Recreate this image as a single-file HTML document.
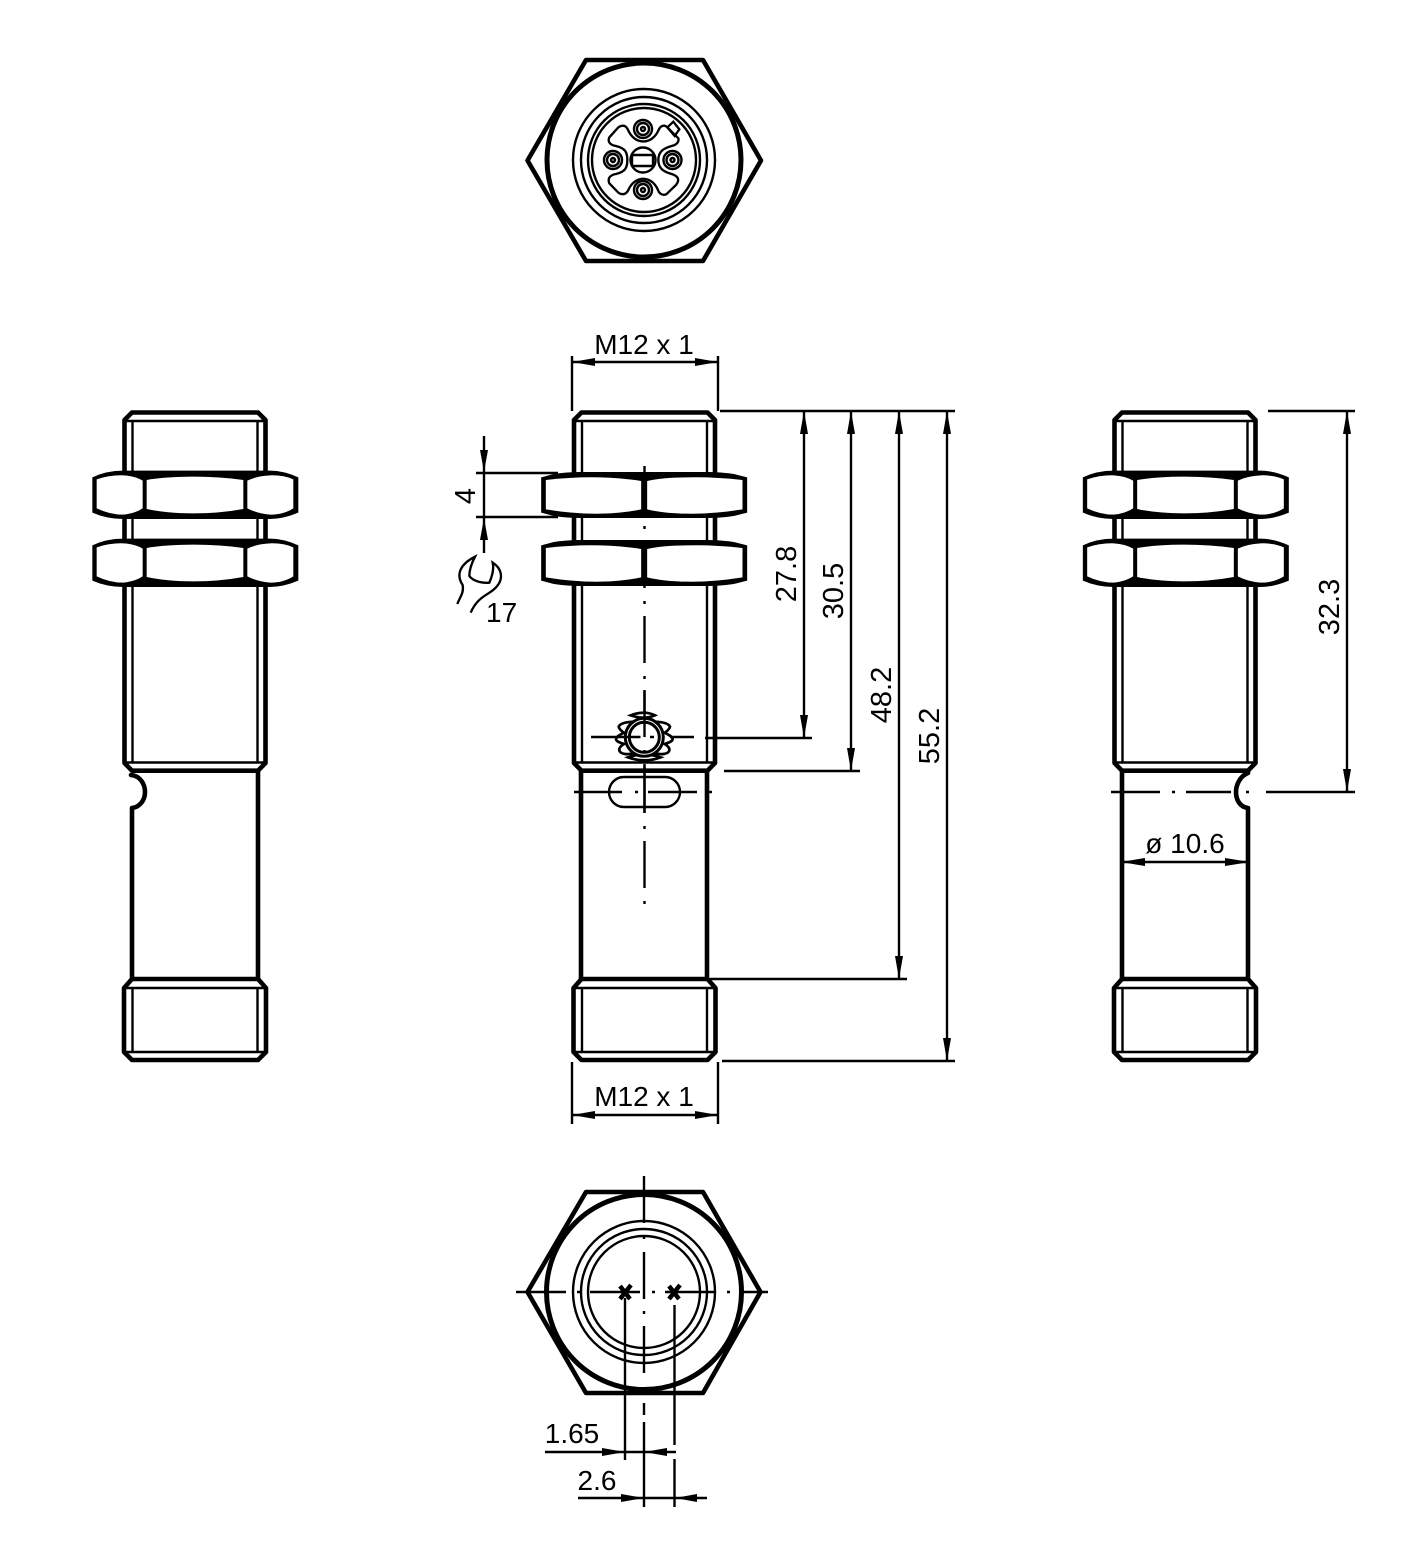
<!DOCTYPE html>
<html><head><meta charset="utf-8"><style>
html,body{margin:0;padding:0;background:#fff}
svg{display:block}
text{font-family:"Liberation Sans",sans-serif;font-size:28px;fill:#000}
.v{font-size:29px;text-anchor:middle}
.m{text-anchor:middle}
.t{fill:none;stroke:#000;stroke-width:2.4}
.k{fill:none;stroke:#000;stroke-width:4.6;stroke-linejoin:round;stroke-linecap:round}
.h{fill:#000}
</style></head><body>
<svg xmlns="http://www.w3.org/2000/svg" width="1417" height="1559" viewBox="0 0 1417 1559">
<rect width="1417" height="1559" fill="#fff"/>
<defs>
<g id="upper">
<path class="k" d="M-70.5,763V420L-63,412.5H63L70.5,420V763L63,770.7H-63Z"/>
<path class="t" d="M-70,421H70M-62.5,421V763M62.5,421V763M-70,762.5H70"/>
</g>
<g id="lower">
<path class="k" d="M-63,979H63L71,988V1052L63,1060H-63L-71,1052V988Z"/>
<path class="t" d="M-71,988H71M-71,1052H71M-62.5,988V1052M62.5,988V1052"/>
</g>
<g id="nutS" transform="scale(.33333)">
<path class="h" d="M37,232Q80,212 130,212H570Q610,212 655,232V338Q610,357 570,357H130Q80,357 37,338Z"/>
<path fill="#fff" d="M50,238Q90,225 130,226Q165,228 188,242V325Q165,340 130,344Q90,344 50,325Z"/>
<path fill="#fff" d="M200,240Q260,230 340,230Q420,230 490,240V327Q420,340 340,340Q260,340 200,327Z"/>
<path fill="#fff" d="M502,242Q530,228 570,226Q610,225 640,238V325Q610,344 570,344Q530,340 502,325Z"/>
</g>
<g id="nutM" transform="scale(.33333)">
<path class="h" d="M302,232L340,222Q380,216 420,216H800Q840,216 880,222L920,232V338L880,348Q840,354 800,354H420Q380,354 340,348L302,338Z"/>
<path fill="#fff" d="M316,240Q400,230 480,232Q550,234 602,243V328Q550,340 480,341Q400,342 316,328Z"/>
<path fill="#fff" d="M620,243Q670,232 740,232Q820,230 906,240V328Q820,342 740,341Q670,340 620,328Z"/>
</g>
</defs>

<!-- top view -->
<path class="k" d="M586,60H703L761,160.5L703,261H586L527.5,160.5Z"/>
<circle cx="644" cy="160" r="97" fill="none" stroke="#000" stroke-width="5"/>
<g fill="none" stroke="#000" stroke-width="2.4"><circle cx="644" cy="160" r="71"/><circle cx="644" cy="160" r="63"/><circle cx="644" cy="160" r="56"/><circle cx="644" cy="160" r="52"/>
<circle cx="643" cy="160" r="12.5"/><rect x="632" y="155" width="21" height="11" rx="1"/>
<circle cx="643" cy="129" r="9"/><circle cx="643" cy="129" r="6"/><circle cx="643" cy="129" r="2"/>
<circle cx="613" cy="160" r="9"/><circle cx="613" cy="160" r="6"/><circle cx="613" cy="160" r="2"/>
<circle cx="672.5" cy="160" r="9"/><circle cx="672.5" cy="160" r="6"/><circle cx="672.5" cy="160" r="2"/>
<circle cx="643" cy="190" r="9"/><circle cx="643" cy="190" r="6"/><circle cx="643" cy="190" r="2"/>
<g transform="translate(510,40) scale(.33333)" stroke-width="7"><path d="M355,272C375,315 425,315 445,272C450,258 462,252 472,262L505,295C508,305 500,315 485,318C460,325 445,335 445,360C445,385 460,395 485,402C505,408 510,420 498,435L470,462C460,468 448,462 444,450C425,405 375,405 355,450C348,465 335,465 325,458L298,430C292,415 300,405 318,402C345,395 352,385 352,360C352,335 345,325 318,318C300,315 292,305 298,292L325,262C340,252 350,258 355,272Z"/><path d="M472,262L490,245L508,268L494,288Z"/></g></g>

<!-- left view -->
<use href="#upper" x="195"/>
<path class="k" d="M258,771V979M132,979V808C140,807 145,800 145,792C145,785 141,776 131,775"/>
<use href="#lower" x="195"/>
<use href="#nutS" x="80" y="400"/>
<use href="#nutS" x="80" y="468"/>

<!-- main view -->
<use href="#upper" x="644.5"/>
<path class="k" d="M581,771V979M707,771V979"/>
<use href="#lower" x="644.5"/>
<use href="#nutM" x="440.5" y="400"/>
<use href="#nutM" x="440.5" y="468"/>
<path d="M644.5,466V904" fill="none" stroke="#000" stroke-width="2.4" stroke-dasharray="47 13 3 12"/>
<rect x="609" y="777" width="71" height="30" rx="15" fill="none" stroke="#000" stroke-width="2.4"/>
<path d="M574,792H622M635,792H638M648,792H697M708,792H712" fill="none" stroke="#000" stroke-width="2.4"/>
<path d="M644.5,764V813" class="t"/>
<g transform="translate(600,700) scale(.33333)" fill="#fff" stroke="#000" stroke-width="8">
<path d="M92,46Q133,30 165,46Q133,60 92,46ZM84,172Q133,190 182,172Q133,155 84,172Z"/>
<path fill="none" d="M100,65C80,66 60,70 56,80C58,90 66,94 72,98C60,104 48,110 48,118C50,126 62,128 72,132C62,138 56,144 58,152C64,164 84,164 100,160"/>
<path fill="none" d="M166,65C186,66 206,70 210,80C208,90 200,94 194,98C206,104 218,110 218,118C216,126 204,128 194,132C204,138 210,144 208,152C202,164 182,164 166,160"/>
</g>
<circle cx="644.3" cy="737.3" r="19" fill="#fff" stroke="#000" stroke-width="3"/>
<circle cx="644.3" cy="737.3" r="15" fill="#fff" stroke="#000" stroke-width="3"/>
<path d="M591,737H640.5M650,737H654M670,737H694M644.5,690V737M644.5,750V753" fill="none" stroke="#000" stroke-width="2.4"/>

<!-- right view -->
<use href="#upper" x="1185"/>
<path class="k" d="M1122,771V979M1248,771V773C1240,776 1236,785 1236,792C1236,800 1240,807 1248,808V979"/>
<use href="#lower" x="1185"/>
<use href="#nutS" x="1070.5" y="400"/>
<use href="#nutS" x="1070.5" y="468"/>
<path d="M1111,792H1160M1172,792H1175M1186,792H1231M1246,792H1249M1266,792H1355" fill="none" stroke="#000" stroke-width="2.4"/>

<!-- bottom view -->
<path class="k" d="M586,1192H703L760.5,1292L703,1393H586L527.5,1292Z"/>
<circle cx="644" cy="1292" r="97.5" fill="none" stroke="#000" stroke-width="5"/>
<g fill="none" stroke="#000" stroke-width="2.4"><circle cx="644" cy="1292" r="71"/><circle cx="644" cy="1292" r="63"/><circle cx="644" cy="1292" r="56"/>
<path d="M516,1292H566M577,1292H580M590,1292H640M652,1292H655M665,1292H715M727,1292H730M740,1292H768"/>
<path d="M644,1176V1223M644,1236V1239M644,1252V1299M644,1311V1314M644,1326V1373M644,1403V1415M644,1422V1507"/>
<path d="M625,1298V1460M674.5,1305V1445M674.5,1459V1507"/>
<path d="M545,1452H676M578,1498H707"/></g>
<path d="M620,1299L631,1285M620,1286L630,1299M669,1299L680,1285M669,1286L679,1299" fill="none" stroke="#000" stroke-width="4.5"/>
<polygon class="h" points="625,1452 602,1448 602,1456"/><polygon class="h" points="644,1452 667,1448 667,1456"/>
<polygon class="h" points="644,1498 621,1494 621,1502"/><polygon class="h" points="675,1498 697,1494 697,1502"/>
<text x="572" y="1443" class="m">1.65</text>
<text x="597" y="1490" class="m">2.6</text>

<!-- dimensions -->
<g class="t">
<path d="M572,356V411M718,356V411M572,362H718"/>
<path d="M572,1062V1124M718,1062V1124M572,1115H718"/>
<path d="M720,411H955M705,738H812M724,771H860M710,979H907M722,1061H955"/>
<path d="M804,411V738M851,411V771M899,411V979M947,411V1061"/>
<path d="M1268,411H1355M1347,411V792"/>
<path d="M1121,862H1250"/>
<path d="M484,436V553M476,473H558M476,517H558"/>
</g>
<polygon class="h" points="572,362 595,358 595,366"/><polygon class="h" points="718,362 695,358 695,366"/>
<polygon class="h" points="572,1115 595,1111 595,1119"/><polygon class="h" points="718,1115 695,1111 695,1119"/>
<polygon class="h" points="804,411 800,434 808,434"/><polygon class="h" points="851,411 847,434 855,434"/>
<polygon class="h" points="899,411 895,434 903,434"/><polygon class="h" points="947,411 943,434 951,434"/>
<polygon class="h" points="804,738 800,715 808,715"/><polygon class="h" points="851,771 847,748 855,748"/>
<polygon class="h" points="899,979 895,956 903,956"/><polygon class="h" points="947,1061 943,1038 951,1038"/>
<polygon class="h" points="1347,411 1343,434 1351,434"/><polygon class="h" points="1347,792 1343,769 1351,769"/>
<polygon class="h" points="1121,862 1145,858 1145,866"/><polygon class="h" points="1250,862 1225,858 1225,866"/>
<polygon class="h" points="484,472 480,450 488,450"/><polygon class="h" points="484,518 480,540 488,540"/>

<text x="644" y="354" class="m">M12 x 1</text>
<text x="644" y="1106" class="m">M12 x 1</text>
<text x="1185" y="853" class="m">ø 10.6</text>
<text class="v" transform="translate(796,574) rotate(-90)">27.8</text>
<text class="v" transform="translate(843,591) rotate(-90)">30.5</text>
<text class="v" transform="translate(891,695) rotate(-90)">48.2</text>
<text class="v" transform="translate(939,736) rotate(-90)">55.2</text>
<text class="v" transform="translate(1339,607) rotate(-90)">32.3</text>
<text class="v" transform="translate(475,496) rotate(-90)">4</text>
<text x="486" y="622">17</text>
<path transform="translate(440,540) scale(.33333)" fill="none" stroke="#000" stroke-width="7" d="M52,192C60,170 72,160 68,135C45,100 65,70 105,50C92,75 88,95 88,108C100,125 130,130 148,128C158,105 162,85 158,68C185,85 192,115 170,140C150,165 115,165 92,218"/>
</svg>
</body></html>
